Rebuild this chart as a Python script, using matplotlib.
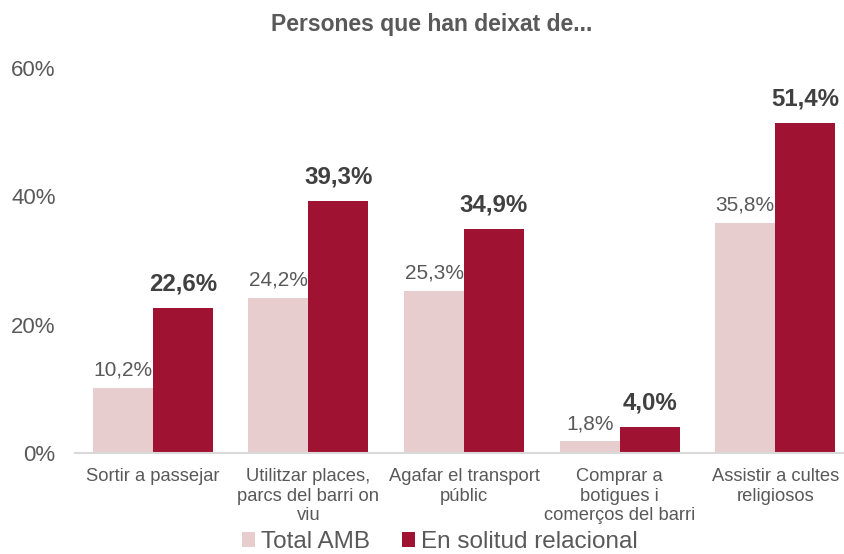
import matplotlib
matplotlib.use("Agg")
import matplotlib.pyplot as plt
import numpy as np

plt.rcParams['font.family'] = ['Liberation Sans', 'DejaVu Sans']

categories = ["Sortir a passejar", "Utilitzar places,\nparcs del barri on\nviu",
              "Agafar el transport\npúblic", "Comprar a\nbotigues i\ncomerços del barri",
              "Assistir a cultes\nreligiosos"]
total_amb = [10.2, 24.2, 25.3, 1.8, 35.8]
solitud = [22.6, 39.3, 34.9, 4.0, 51.4]
yticks = [0, 20, 40, 60]

c_light = "#E8CDCE"
c_dark = "#A01232"
c_text = "#595959"

W, H = 845, 554
fig = plt.figure(figsize=(W/100, H/100), dpi=100)
left, right = 75, 853
bottom, top = 453, 68
ax = fig.add_axes([left/W, 1 - bottom/H, (right-left)/W, (bottom-top)/H])

x = np.arange(len(categories))
bw = 0.385
b1 = ax.bar(x - bw/2, total_amb, bw, color=c_light, label="Total AMB")
b2 = ax.bar(x + bw/2, solitud, bw, color=c_dark, label="En solitud relacional")

for xi, v in zip(x, total_amb):
    ax.annotate(f"{v:.1f}%".replace(".", ","), (xi - bw/2, v), xytext=(0, 6),
                textcoords="offset points", ha="center", va="bottom",
                fontsize=15, color=c_text)
for xi, v in zip(x, solitud):
    ax.annotate(f"{v:.1f}%".replace(".", ","), (xi + bw/2, v), xytext=(0, 9),
                textcoords="offset points", ha="center", va="bottom",
                fontsize=17.3, color="#404040", fontweight="bold")

ax.set_xlim(-0.5, len(categories) - 0.5)
ax.set_ylim(0, 60)
ax.set_yticks(yticks)
ax.set_yticklabels([f"{t}%" for t in yticks], fontsize=16, color=c_text)
ax.set_xticks(x)
ax.set_xticklabels(categories, fontsize=13.2, color=c_text, linespacing=1.2)
ax.tick_params(axis='both', length=0)
ax.tick_params(axis='y', pad=14)
ax.tick_params(axis='x', pad=11)
for s in ["top", "right", "left"]:
    ax.spines[s].set_visible(False)
ax.spines["bottom"].set_color("#D9D9D9")
ax.spines["bottom"].set_linewidth(1.5)

fig.text(432/W, 1 - 24/H, "Persones que han deixat de...", ha="center", va="center",
         fontsize=16.5, fontweight="bold", color=c_text)

leg = fig.legend(handles=[b1, b2], loc="center", bbox_to_anchor=(440/W, 1 - 542/H),
                 ncol=2, frameon=False, fontsize=17.5, handlelength=0.55, handleheight=0.55,
                 handletextpad=0.25, columnspacing=1.3, labelcolor=c_text,
                 borderpad=0)

fig.savefig("out.png", dpi=100)
